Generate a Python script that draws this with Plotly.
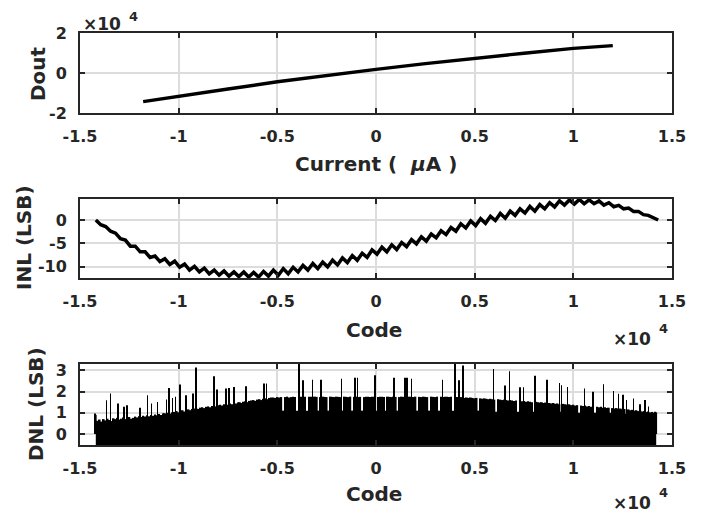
import plotly.graph_objects as go

# top panel: output code vs input current
current_ua = [-1.18, -1.0, -0.75, -0.5, -0.25, 0.0, 0.25, 0.5, 0.75, 1.0, 1.2]
dout = [-14300, -11800, -8000, -4400, -1200, 1800, 4700, 7400, 9900, 12300, 13700]

# middle panel: INL read every 250 codes (teeth peaks / troughs)
inl_code = list(range(-14200, 14301, 250))
inl_lsb = [
    0.0, -1.0, -1.4, -2.4, -2.8, -4.0, -4.3, -5.6, -5.6, -6.8,
    -6.8, -8.0, -7.7, -8.9, -8.3, -9.5, -8.8, -10.1, -9.4, -10.7,
    -9.9, -11.1, -10.3, -11.5, -10.7, -11.8, -10.9, -12.0, -11.1, -12.1,
    -11.1, -12.2, -11.2, -12.2, -11.0, -12.0, -10.7, -11.8, -10.4, -11.5,
    -10.1, -11.1, -9.7, -10.7, -9.3, -10.4, -9.0, -10.0, -8.6, -9.6,
    -8.1, -9.1, -7.6, -8.6, -7.1, -8.0, -6.4, -7.3, -5.8, -6.8,
    -5.3, -6.3, -4.8, -5.7, -4.2, -5.1, -3.6, -4.5, -3.0, -3.8,
    -2.3, -3.1, -1.6, -2.4, -0.8, -1.7, -0.2, -1.2, 0.3, -0.7,
    0.8, -0.1, 1.4, 0.4, 1.9, 1.0, 2.4, 1.5, 2.9, 1.9,
    3.3, 2.4, 3.7, 2.8, 4.1, 3.2, 4.3, 3.4, 4.4, 3.5,
    4.3, 3.5, 4.1, 3.2, 3.7, 2.85, 3.15, 2.4, 2.55, 1.85,
    1.85, 1.15, 1.0, 0.4, 0.0,
]

# bottom panel: DNL, dense part read every 100 codes
dnl_code = list(range(-14200, 14201, 100))
dnl_lsb = [
    0.90, 0.62, 0.68, 0.58, 0.70, 0.64, 0.72, 0.66, 0.60, 0.74,
    0.70, 0.76, 0.68, 0.72, 0.78, 0.70, 0.74, 0.80, 0.72, 0.76,
    0.82, 0.78, 0.84, 0.80, 0.86, 0.82, 0.88, 0.84, 0.90, 0.86,
    0.92, 0.88, 0.94, 0.90, 0.96, 0.98, 0.94, 1.00, 0.96, 1.02,
    1.04, 1.08, 1.02, 1.10, 1.12, 1.06, 1.14, 1.16, 1.12, 1.18,
    1.20, 1.22, 1.18, 1.24, 1.26, 1.22, 1.28, 1.30, 1.26, 1.32,
    1.34, 1.30, 1.36, 1.38, 1.34, 1.40, 1.42, 1.38, 1.44, 1.40,
    1.46, 1.44, 1.48, 1.50, 1.46, 1.52, 1.54, 1.50, 1.56, 1.58,
    1.60, 1.56, 1.62, 1.64, 1.60, 1.66, 1.68, 1.64, 1.70, 1.72,
    1.72, 1.70, 1.74, 1.72, 1.74, 1.10, 1.74, 1.76, 1.72, 1.74,
    1.75, 1.74, 1.10, 1.76, 1.75, 1.74, 1.76, 1.10, 1.75, 1.76,
    1.74, 1.76, 1.75, 1.10, 1.74, 1.76, 1.75, 1.74, 1.10, 1.76,
    1.75, 1.74, 1.76, 1.75, 1.74, 1.10, 1.76, 1.75, 1.74, 1.76,
    1.10, 1.75, 1.76, 1.74, 1.75, 1.10, 1.74, 1.76, 1.75, 1.74,
    1.76, 1.75, 1.10, 1.74, 1.76, 1.75, 1.74, 1.10, 1.76, 1.75,
    1.74, 1.76, 1.75, 1.10, 1.74, 1.76, 1.75, 1.74, 1.10, 1.76,
    1.75, 1.74, 1.76, 1.10, 1.75, 1.74, 1.76, 1.75, 1.74, 1.10,
    1.76, 1.75, 1.74, 1.76, 1.10, 1.75, 1.74, 1.76, 1.75, 1.74,
    1.76, 1.10, 1.75, 1.74, 1.72, 1.74, 1.72, 1.70, 1.72, 1.70,
    1.72, 1.70, 1.68, 1.70, 1.10, 1.68, 1.66, 1.68, 1.66, 1.64,
    1.66, 1.64, 1.62, 1.05, 1.64, 1.62, 1.60, 1.62, 1.60, 1.58,
    1.60, 1.58, 1.56, 1.58, 1.05, 1.56, 1.54, 1.56, 1.52, 1.54,
    1.52, 1.50, 1.05, 1.52, 1.50, 1.48, 1.50, 1.46, 1.48, 1.05,
    1.46, 1.44, 1.46, 1.42, 1.44, 1.40, 1.05, 1.42, 1.40, 1.38,
    1.40, 1.36, 1.38, 1.34, 1.36, 1.00, 1.34, 1.32, 1.34, 1.30,
    1.32, 1.28, 1.30, 1.00, 1.28, 1.26, 1.28, 1.24, 1.26, 1.22,
    1.24, 1.00, 1.22, 1.20, 1.22, 1.18, 1.20, 1.16, 1.18, 0.95,
    1.16, 1.12, 1.14, 1.10, 1.12, 1.08, 1.10, 1.06, 1.08, 1.04,
    1.06, 1.02, 1.04, 1.00, 1.02,
]

# level below which the DNL bars are solid black
dnl_floor_code = [-14200, -13000, -12000, -11000, -10000, -9000, -8000, -7000,
                  -6000, -5000, -4500, 4500, 6000, 8000, 10000, 12000, 14200]
dnl_floor_lsb = [0.55, 0.62, 0.72, 0.85, 0.98, 1.08, 1.18, 1.25,
                 1.30, 1.10, 1.05, 1.05, 1.02, 1.00, 0.95, 0.90, 0.85]

# isolated tall DNL codes
spike_code = [-14240, -13650, -13450, -13060, -12770, -12630, -11960, -11570,
              -11370, -11070, -10610, -10480, -10310, -10150, -9930, -9630,
              -9260, -9120, -8210, -8070, -7600, -7450, -7190, -6590, -5670,
              -5540, -3890, -3700, -3220, -2800, -1740, -1060, -940, -50, 900,
              1460, 1580, 1800, 3380, 4000, 4200, 4400, 5950, 6540, 6760, 7300,
              7470, 8060, 8680, 9290, 9410, 9700, 10560, 11010, 11520, 12030,
              12280, 12530, 12700, 13040, 13380, 13630, 13800, 14140]
spike_lsb = [0.97, 1.59, 1.91, 1.44, 1.28, 1.36, 1.24, 1.83,
             1.44, 1.51, 1.63, 2.17, 1.70, 1.75, 2.33, 1.83,
             1.91, 3.13, 2.72, 2.10, 2.15, 2.17, 2.22, 2.25, 2.38,
             2.38, 3.30, 2.53, 2.56, 2.56, 2.61, 2.65, 2.65, 2.77, 2.65,
             2.65, 2.65, 2.60, 2.56, 3.30, 2.53, 3.23, 3.07, 2.29, 2.96, 2.20,
             2.20, 2.75, 2.56, 2.40, 2.30, 2.22, 2.14, 1.99, 2.34, 2.03,
             1.90, 1.85, 1.60, 1.67, 1.40, 1.60, 1.30, 1.05]

x_ticks = [-1.5, -1, -0.5, 0, 0.5, 1, 1.5]
x_labels = ['-1.5', '-1', '-0.5', '0', '0.5', '1', '1.5']

W, H = 706, 515
PAGE = 8  # the page puts the plot 8 px in from the corner
FONT = 'DejaVu Sans'
INK = '#262626'


def px(x):
    return (x - PAGE) / W


def py(y):
    return 1 - (y - PAGE) / H


fig = go.Figure()

fig.add_trace(go.Scatter(x=current_ua, y=[d / 1e4 for d in dout], mode='lines',
                         line=dict(color='black', width=3.4), xaxis='x', yaxis='y'))

fig.add_trace(go.Scatter(x=[c / 1e4 for c in inl_code], y=inl_lsb, mode='lines',
                         line=dict(color='black', width=3.5), xaxis='x2', yaxis='y2'))

floor_x = [c / 1e4 for c in dnl_floor_code] + [dnl_floor_code[-1] / 1e4, dnl_floor_code[0] / 1e4]
floor_y = dnl_floor_lsb + [-1, -1]
fig.add_trace(go.Scatter(x=floor_x, y=floor_y, mode='lines', fill='toself',
                         fillcolor='black', line=dict(width=0, color='black'),
                         xaxis='x3', yaxis='y3'))
fig.add_trace(go.Bar(x=[c / 1e4 for c in dnl_code], y=dnl_lsb, width=0.0088,
                     marker=dict(color='black', line=dict(width=0)),
                     xaxis='x3', yaxis='y3'))
fig.add_trace(go.Bar(x=[c / 1e4 for c in spike_code], y=spike_lsb, width=0.003,
                     marker=dict(color='black', line=dict(width=0)),
                     xaxis='x3', yaxis='y3'))


def axis(domain, anchor, rng, tickvals, ticktext):
    return dict(domain=domain, anchor=anchor, range=rng, tickvals=tickvals,
                ticktext=ticktext, ticks='inside', ticklen=5, tickwidth=1.5,
                tickcolor=INK, showline=True, linecolor=INK, linewidth=2,
                mirror='ticks', showgrid=True, gridcolor='#dcdcdc', gridwidth=1.5,
                zeroline=False, ticklabelstandoff=8, automargin=False,
                tickfont=dict(family=FONT, size=16, color=INK, weight='bold'))


xdom = [px(80), px(672)]
layout = dict(
    width=W, height=H, margin=dict(l=0, r=0, t=0, b=0, autoexpand=False),
    plot_bgcolor='white', paper_bgcolor='white', showlegend=False,
    barmode='overlay', hovermode=False,
    xaxis=axis(xdom, 'y', [-1.5, 1.5], x_ticks, x_labels),
    yaxis=axis([py(113), py(33)], 'x', [-2, 2], [-2, 0, 2], ['-2', '0', '2']),
    xaxis2=axis(xdom, 'y2', [-1.5, 1.5], x_ticks, x_labels),
    yaxis2=axis([py(278), py(199)], 'x2', [-12.4, 4.5], [-10, -5, 0], ['-10', '-5', '0']),
    xaxis3=axis(xdom, 'y3', [-1.5, 1.5], x_ticks, x_labels),
    yaxis3=axis([py(445), py(364)], 'x3', [-0.52, 3.3], [0, 1, 2, 3], ['0', '1', '2', '3']),
)

title_font = dict(family=FONT, size=20, color=INK, weight='bold')
exp_font = dict(family=FONT, size=17, color=INK, weight='bold')
sup_font = dict(family=FONT, size=13, color=INK, weight='bold')


def label(text, x, y, angle=0, font=title_font, xanchor='center'):
    return dict(text=text, x=px(x), y=py(y), xref='paper', yref='paper',
                showarrow=False, textangle=angle, font=font,
                xanchor=xanchor, yanchor='middle')


layout['annotations'] = [
    label('Dout', 38, 74, -90),
    label('Current (  <i>μ</i>A )', 376, 164),
    label('INL (LSB)', 24, 238, -90),
    label('Code', 374, 330),
    label('DNL (LSB)', 36, 404, -90),
    label('Code', 374, 494),
    label('×10', 81, 24, font=exp_font, xanchor='left'),
    label('4', 127, 16, font=sup_font, xanchor='left'),
    label('×10', 611, 339, font=exp_font, xanchor='left'),
    label('4', 657, 328, font=sup_font, xanchor='left'),
    label('×10', 611, 503, font=exp_font, xanchor='left'),
    label('4', 657, 492, font=sup_font, xanchor='left'),
]

fig.update_layout(layout)
fig.write_html('out.html')
